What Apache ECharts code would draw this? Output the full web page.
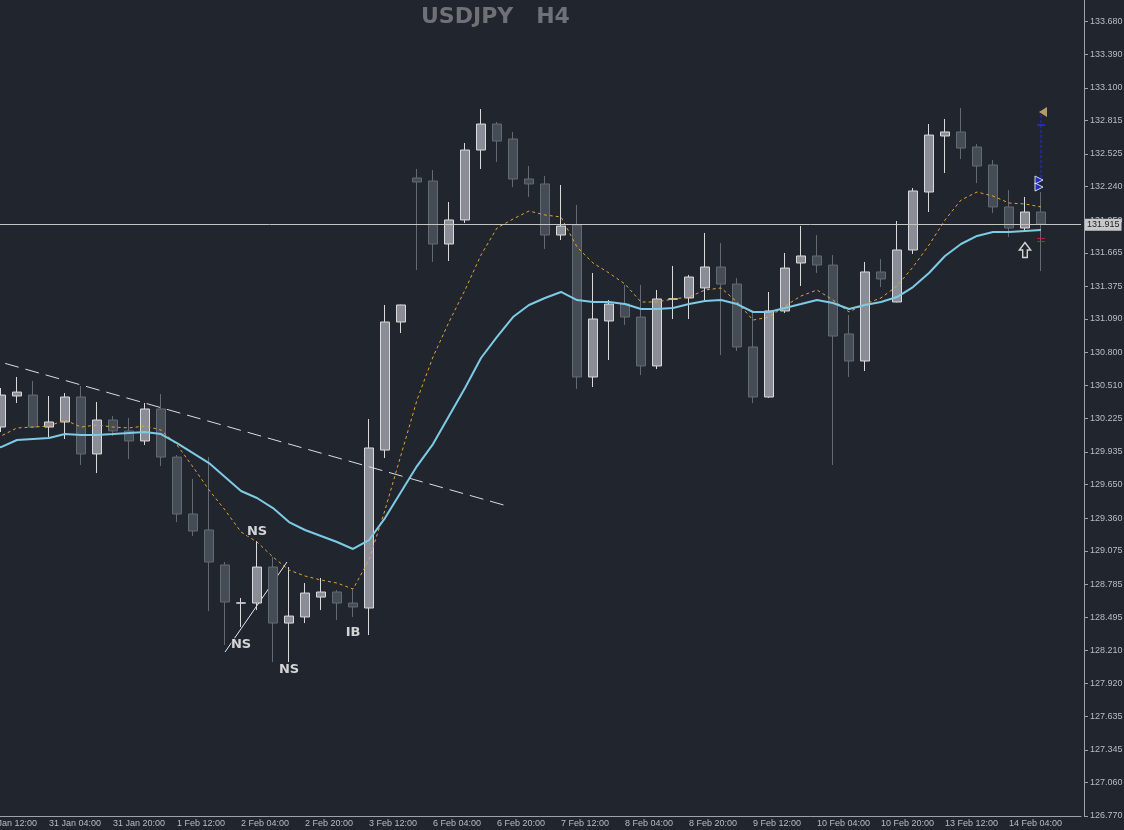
<!DOCTYPE html>
<html>
<head>
<meta charset="utf-8">
<title>USDJPY H4</title>
<script src="https://cdn.jsdelivr.net/npm/echarts@6/dist/echarts.min.js"></script>
<style>
  html, body { margin: 0; padding: 0; background: #20252e; }
  #chart { width: 1124px; height: 830px; }
</style>
</head>
<body>
<div id="chart"></div>
<script>
// bar times (H4), first one sits just off the left edge, last two slots are empty
var barTimes = [
  '30 Jan 12:00', '30 Jan 16:00', '30 Jan 20:00', '31 Jan 00:00',
  '31 Jan 04:00', '31 Jan 08:00', '31 Jan 12:00', '31 Jan 16:00',
  '31 Jan 20:00', '1 Feb 00:00', '1 Feb 04:00', '1 Feb 08:00',
  '1 Feb 12:00', '1 Feb 16:00', '1 Feb 20:00', '2 Feb 00:00',
  '2 Feb 04:00', '2 Feb 08:00', '2 Feb 12:00', '2 Feb 16:00',
  '2 Feb 20:00', '3 Feb 00:00', '3 Feb 04:00', '3 Feb 08:00',
  '3 Feb 12:00', '3 Feb 16:00', '3 Feb 20:00', '6 Feb 00:00',
  '6 Feb 04:00', '6 Feb 08:00', '6 Feb 12:00', '6 Feb 16:00',
  '6 Feb 20:00', '7 Feb 00:00', '7 Feb 04:00', '7 Feb 08:00',
  '7 Feb 12:00', '7 Feb 16:00', '7 Feb 20:00', '8 Feb 00:00',
  '8 Feb 04:00', '8 Feb 08:00', '8 Feb 12:00', '8 Feb 16:00',
  '8 Feb 20:00', '9 Feb 00:00', '9 Feb 04:00', '9 Feb 08:00',
  '9 Feb 12:00', '9 Feb 16:00', '9 Feb 20:00', '10 Feb 00:00',
  '10 Feb 04:00', '10 Feb 08:00', '10 Feb 12:00', '10 Feb 16:00',
  '10 Feb 20:00', '13 Feb 00:00', '13 Feb 04:00', '13 Feb 08:00',
  '13 Feb 12:00', '13 Feb 16:00', '13 Feb 20:00', '14 Feb 00:00',
  '14 Feb 04:00', '14 Feb 08:00', '14 Feb 12:00', '', ''
];

var opens = ['-',
  130.151, 130.421, 130.429, 130.151, 130.195, 130.412, 129.917, 130.212, 130.117, 130.030,
  130.308, 129.890, 129.395, 129.256, 128.952, 128.620, 128.621, 128.934, 128.447, 128.500,
  128.673, 128.717, 128.621, 128.578, 129.951, 131.064, 132.316, 132.290, 131.742, 131.951,
  132.559, 132.785, 132.655, 132.307, 132.264, 131.820, 131.907, 130.586, 131.073, 131.220,
  131.107, 130.682, 131.262, 131.273, 131.360, 131.542, 131.394, 130.847, 130.412, 131.160,
  131.577, 131.638, 131.559, 130.960, 130.725, 131.499, 131.238, 131.690, 132.194, 132.681,
  132.716, 132.585, 132.429, 132.064, 131.881, 132.020, '-', '-'];
var closes = ['-',
  130.429, 130.455, 130.151, 130.195, 130.412, 129.917, 130.212, 130.117, 130.030, 130.308,
  129.890, 129.395, 129.247, 128.978, 128.630, 128.623, 128.934, 128.447, 128.508, 128.708,
  128.717, 128.621, 128.587, 129.969, 131.064, 131.212, 132.281, 131.742, 131.951, 132.559,
  132.785, 132.637, 132.307, 132.264, 131.820, 131.898, 130.586, 131.090, 131.220, 131.107,
  130.682, 131.264, 131.266, 131.455, 131.542, 131.394, 130.847, 130.412, 131.160, 131.533,
  131.638, 131.559, 130.942, 130.725, 131.499, 131.438, 131.690, 132.203, 132.689, 132.716,
  132.576, 132.420, 132.064, 131.881, 132.020, 131.915, '-', '-'];
var lows = ['-',
  130.108, 130.360, 130.143, 130.064, 130.047, 129.821, 129.751, 130.073, 129.873, 129.995,
  129.812, 129.325, 129.204, 128.552, 128.256, 128.413, 128.560, 128.108, 128.108, 128.447,
  128.560, 128.474, 128.500, 128.343, 129.882, 130.968, 131.516, 131.586, 131.594, 131.925,
  132.394, 132.455, 132.237, 132.151, 131.699, 131.777, 130.482, 130.499, 130.734, 131.038,
  130.603, 130.655, 131.090, 131.090, 131.255, 130.777, 130.812, 130.360, 130.405, 131.142,
  131.377, 131.490, 129.821, 130.586, 130.638, 131.368, 131.235, 131.655, 132.020, 132.359,
  132.481, 132.272, 132.011, 131.803, 131.846, 131.507, '-', '-'];
var highs = ['-',
  130.490, 130.586, 130.551, 130.421, 130.447, 130.508, 130.369, 130.247, 130.230, 130.360,
  130.438, 129.908, 129.699, 129.890, 128.978, 128.665, 129.160, 129.021, 128.934, 128.795,
  128.839, 128.734, 128.743, 130.221, 131.212, 131.215, 132.394, 132.385, 132.107, 132.620,
  132.915, 132.803, 132.716, 132.420, 132.333, 132.255, 132.081, 131.490, 131.255, 131.386,
  131.386, 131.342, 131.551, 131.473, 131.838, 131.751, 131.446, 131.142, 131.325, 131.664,
  131.898, 131.820, 131.646, 131.125, 131.586, 131.612, 131.942, 132.229, 132.785, 132.829,
  132.924, 132.611, 132.472, 132.211, 132.151, 132.194, '-', '-'];

// moving averages as drawn on the chart
var maSlow = [129.943,
  129.977, 130.038, 130.047, 130.056, 130.090, 130.082, 130.082, 130.090, 130.099, 130.108,
  130.090, 130.012, 129.925, 129.838, 129.717, 129.595, 129.534, 129.447, 129.325, 129.256,
  129.204, 129.152, 129.091, 129.169, 129.360, 129.586, 129.812, 130.003, 130.247, 130.490,
  130.751, 130.934, 131.107, 131.212, 131.273, 131.325, 131.255, 131.238, 131.238, 131.220,
  131.177, 131.177, 131.186, 131.220, 131.247, 131.255, 131.220, 131.151, 131.151, 131.186,
  131.220, 131.255, 131.229, 131.177, 131.212, 131.238, 131.281, 131.368, 131.490, 131.638,
  131.742, 131.812, 131.846, 131.846, 131.855, 131.864, '-', '-'];
var maFast = [130.038,
  130.073, 130.143, 130.151, 130.160, 130.212, 130.151, 130.169, 130.151, 130.143, 130.160,
  130.125, 129.995, 129.804, 129.604, 129.430, 129.239, 129.152, 129.021, 128.908, 128.856,
  128.821, 128.795, 128.743, 128.995, 129.430, 129.908, 130.386, 130.760, 131.064, 131.342,
  131.646, 131.881, 131.959, 132.029, 131.994, 131.977, 131.716, 131.577, 131.490, 131.394,
  131.238, 131.238, 131.264, 131.281, 131.342, 131.360, 131.238, 131.081, 131.107, 131.203,
  131.290, 131.342, 131.255, 131.151, 131.220, 131.273, 131.377, 131.542, 131.733, 131.951,
  132.124, 132.194, 132.159, 132.098, 132.090, 132.064, '-', '-'];

var priceTicks = [133.680, 133.390, 133.100, 132.815, 132.525, 132.240, 131.950, 131.665,
  131.375, 131.090, 130.800, 130.510, 130.225, 129.935, 129.650, 129.360, 129.075, 128.785,
  128.495, 128.210, 127.920, 127.635, 127.345, 127.060, 126.770];
var lastPrice = 131.915;

// drawn objects: [slot in barTimes, price]
var trendLine = [[0, 130.754], [32.625, 129.465]];
var nsLine = [[15.0, 128.195], [18.875, 128.978]];
var patternNames = ['NS', 'NS', 'NS', 'IB'];
var patternPoints = [[17, 129.239], [16, 128.256], [19, 128.039], [23, 128.361]];
var targetMark = [66.125, 132.889];
var targetLine = [[66, 132.863], [66, 132.281]];
var targetTick = [66, 132.776];
var entryMarks = [[65.875, 132.298], [65.875, 132.237]];
var upArrow = [65, 131.690];
var stopMark = [66, 131.777];

var candles = opens.map(function (o, i) {
  if (o === '-') return '-';
  return [o, closes[i], lows[i], highs[i]];
});

var chart = echarts.init(document.getElementById('chart'));
var axisGrey = '#9ea2a9';
var textGrey = '#b8bcc2';

var option = {
  backgroundColor: '#20252e',
  animation: false,
  title: {
    text: 'USDJPY   H4',
    left: 421,
    top: 6,
    padding: 0,
    textStyle: { color: '#6e7176', fontSize: 22, fontWeight: 'bold', fontFamily: 'DejaVu Sans' }
  },
  grid: { left: -23, right: 43, top: 0, bottom: 14, containLabel: false, outerBoundsMode: 'none' },
  xAxis: [{
    type: 'category',
    data: barTimes,
    boundaryGap: true,
    axisLine: { onZero: false, lineStyle: { color: axisGrey, width: 1 } },
    axisTick: { alignWithLabel: true, interval: 3, length: 4, lineStyle: { color: axisGrey } },
    axisLabel: {
      interval: 3, align: 'left', margin: 3,
      color: textGrey, fontSize: 9, fontFamily: 'Liberation Sans'
    },
    splitLine: { show: false }
  }, {
    type: 'value', min: -0.5, max: 68.5, show: false,
    axisLine: { onZero: false }
  }],
  yAxis: {
    type: 'value',
    position: 'right',
    offset: 3,
    min: 126.770,
    max: 133.863,
    scale: true,
    axisLine: { show: true, onZero: false, lineStyle: { color: axisGrey, width: 1 } },
    axisTick: { show: true, length: 4, customValues: priceTicks, lineStyle: { color: axisGrey } },
    axisLabel: {
      customValues: priceTicks, margin: 6,
      color: textGrey, fontSize: 9, fontFamily: 'Liberation Sans',
      formatter: function (v) { return v.toFixed(3); }
    },
    splitLine: { show: false }
  },
  series: [
    {
      type: 'line', xAxisIndex: 1, data: nsLine, z: 1,
      symbol: 'none', lineStyle: { color: '#e8e8e8', width: 1 }
    },
    {
      type: 'candlestick',
      data: candles,
      barWidth: 10,
      z: 2,
      itemStyle: {
        color: '#8a8d95', color0: '#464c56',
        borderColor: '#dadada', borderColor0: '#646a74', borderWidth: 1
      },
      markLine: {
        silent: true, symbol: 'none',
        lineStyle: { color: '#c4c4c4', width: 1, type: 'solid' },
        label: {
          position: 'end', distance: 4,
          formatter: function () { return lastPrice.toFixed(3); },
          backgroundColor: '#c8c8c8', color: '#20252e', padding: [2, 2, 1, 2],
          fontSize: 9, fontFamily: 'Liberation Sans'
        },
        data: [{ yAxis: lastPrice }]
      }
    },
    {
      type: 'line', xAxisIndex: 1, data: trendLine, z: 3,
      symbol: 'none', lineStyle: { color: '#dcdcdc', width: 1, type: [14, 7] }
    },
    {
      type: 'line', data: maFast, z: 3, symbol: 'none',
      lineStyle: { color: '#e3a32e', width: 1, type: [3, 3] }
    },
    {
      type: 'line', data: maSlow, z: 4, symbol: 'none',
      lineStyle: { color: '#7ecbe6', width: 2 }
    },
    {
      type: 'scatter', xAxisIndex: 1, z: 5, symbolSize: 0,
      data: patternPoints.map(function (p, i) { return { value: p, name: patternNames[i] }; }),
      label: {
        show: true, position: 'inside', formatter: '{b}',
        color: '#ffffff', fontSize: 13, fontWeight: 'bold', fontFamily: 'DejaVu Sans',
        textBorderColor: '#20252e', textBorderWidth: 2
      }
    },
    {
      type: 'line', xAxisIndex: 1, data: targetLine, z: 5, symbol: 'none',
      lineStyle: { color: '#2a2ae0', width: 1, type: [3, 2] }
    },
    {
      type: 'scatter', xAxisIndex: 1, z: 6, data: [targetMark],
      symbol: 'triangle', symbolRotate: 90, symbolSize: [10, 8],
      itemStyle: { color: '#dcb978' }
    },
    {
      type: 'scatter', xAxisIndex: 1, z: 6, data: [targetTick],
      symbol: 'rect', symbolSize: [8, 2], itemStyle: { color: '#2a2ae0' }
    },
    {
      type: 'scatter', xAxisIndex: 1, z: 6, data: entryMarks,
      symbol: 'triangle', symbolRotate: -90, symbolSize: [8, 8],
      itemStyle: { color: '#2430e8', borderColor: '#ffffff', borderWidth: 1 }
    },
    {
      type: 'scatter', xAxisIndex: 1, z: 6, data: [upArrow],
      symbol: 'path://M6,0 L12,7 L8.5,7 L8.5,14 L3.5,14 L3.5,7 L0,7 Z',
      symbolSize: [13, 15], symbolKeepAspect: true,
      itemStyle: { color: '#20252e', borderColor: '#ffffff', borderWidth: 1.5 }
    },
    {
      type: 'scatter', xAxisIndex: 1, z: 6, data: [stopMark],
      symbol: 'path://M0,0 L8,0 L8,1 L0,1 Z M0,3 L8,3 L8,4 L0,4 Z',
      symbolSize: [8, 4], itemStyle: { color: '#d8203a' }
    }
  ]
};

chart.setOption(option);
window.addEventListener('resize', function () { chart.resize(); });
</script>
</body>
</html>
